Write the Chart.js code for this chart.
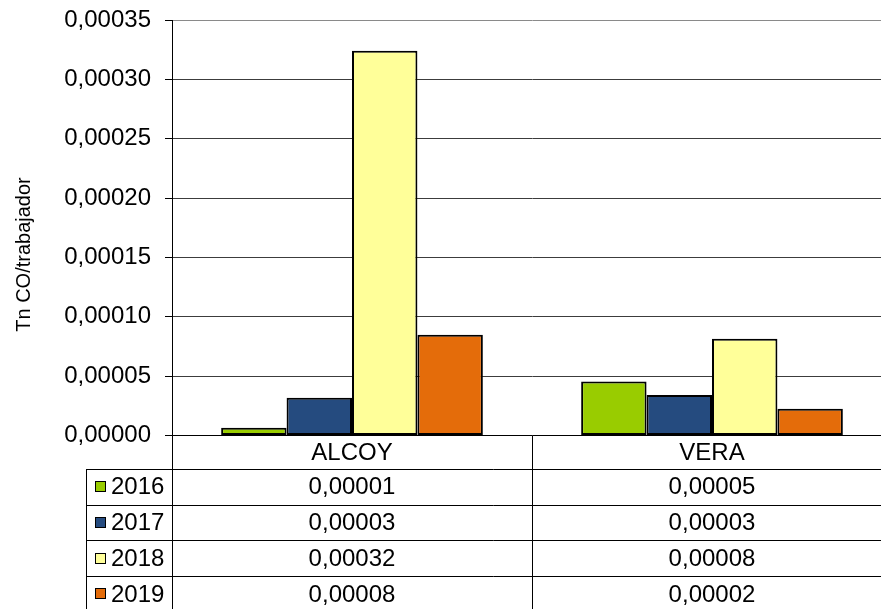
<!DOCTYPE html>
<html>
<head>
<meta charset="utf-8">
<script src="https://cdn.jsdelivr.net/npm/chart.js@4/dist/chart.umd.min.js"></script>
<style>
  html, body { margin: 0; padding: 0; background: #fff; overflow: hidden; }
  #wrap { width: 881px; height: 609px; overflow: hidden; }
  canvas { display: block; }
</style>
</head>
<body>
<div id="wrap"><canvas id="c" width="900" height="609"></canvas></div>
<script>
// Emissions per worker by site and year
const categories = ['ALCOY', 'VERA'];
const years = ['2016', '2017', '2018', '2019'];
const v2016 = [0.0000066, 0.0000454];
const v2017 = [0.0000319, 0.0000342];
const v2018 = [0.000324, 0.0000815];
const v2019 = [0.0000849, 0.0000226];
const yTicks = [0, 0.00005, 0.0001, 0.00015, 0.0002, 0.00025, 0.0003, 0.00035];
const yTitle = 'Tn CO/trabajador';

const seriesValues = [v2016, v2017, v2018, v2019];
const colors = ['#99CC00', '#254B7F', '#FFFF99', '#E46C0A'];
const FONT = '"Liberation Sans", Arial, sans-serif';

const fmt = v => v.toFixed(5).replace('.', ',');

// Data table drawn under the plot, aligned to the category scale
const dataTable = {
  id: 'dataTable',
  afterDraw(chart) {
    const ctx = chart.ctx;
    const xs = chart.scales.x;
    const area = chart.chartArea;
    const half = (xs.getPixelForValue(1) - xs.getPixelForValue(0)) / 2;
    const headTop = area.bottom;
    const headH = 33.5;
    const rowH = 35.7;
    const legLeft = 86.5;
    const colEdges = [area.left];
    categories.forEach((c, i) => colEdges.push(xs.getPixelForValue(i) + half));

    ctx.save();
    ctx.strokeStyle = '#000';
    ctx.lineWidth = 1;
    ctx.beginPath();
    // header bottom and row separators
    for (let r = 0; r <= years.length; r++) {
      const y = Math.round(headTop + headH + r * rowH) + 0.5;
      ctx.moveTo(legLeft, y);
      ctx.lineTo(chart.width, y);
    }
    // vertical rules
    colEdges.forEach(x => {
      const px = Math.round(x) + 0.5;
      ctx.moveTo(px, headTop);
      ctx.lineTo(px, chart.height);
    });
    ctx.moveTo(legLeft, headTop + headH);
    ctx.lineTo(legLeft, chart.height);
    ctx.stroke();

    ctx.fillStyle = '#000';
    ctx.font = '24px ' + FONT;
    ctx.textBaseline = 'middle';
    ctx.textAlign = 'center';
    categories.forEach((c, i) => {
      ctx.fillText(c, xs.getPixelForValue(i), headTop + headH / 2 + 1);
    });
    years.forEach((yr, r) => {
      const cy = headTop + headH + r * rowH + rowH / 2 + 1;
      ctx.textAlign = 'center';
      categories.forEach((c, i) => {
        ctx.fillText(fmt(seriesValues[r][i]), xs.getPixelForValue(i), cy);
      });
      // legend key
      ctx.fillStyle = colors[r];
      ctx.fillRect(95.5, Math.round(cy - 6.5) + 0.5, 10, 10);
      ctx.strokeRect(95.5, Math.round(cy - 6.5) + 0.5, 10, 10);
      ctx.fillStyle = '#000';
      ctx.textAlign = 'left';
      ctx.fillText(yr, 111, cy);
    });

    // vertical axis title
    ctx.save();
    ctx.translate(29.5, 254.5);
    ctx.rotate(-Math.PI / 2);
    ctx.font = '20px ' + FONT;
    ctx.textAlign = 'center';
    ctx.textBaseline = 'alphabetic';
    ctx.fillText(yTitle, 0, 0);
    ctx.restore();
    ctx.restore();
  }
};

new Chart(document.getElementById('c'), {
  type: 'bar',
  data: {
    labels: categories,
    datasets: years.map((yr, i) => ({
      label: yr,
      data: seriesValues[i],
      backgroundColor: colors[i],
      borderColor: '#000',
      borderWidth: 2,
      borderSkipped: false,
      categoryPercentage: 0.727,
      barPercentage: 1
    }))
  },
  options: {
    responsive: false,
    devicePixelRatio: 1,
    animation: false,
    layout: { padding: { top: 20, right: 8, bottom: 173.5, left: 0 } },
    plugins: { legend: { display: false }, tooltip: { enabled: false } },
    scales: {
      x: {
        display: false,
        offset: true
      },
      y: {
        min: 0,
        max: 0.00035,
        afterFit(scale) {
          scale.width = 172;
          scale.paddingTop = 0;
          scale.paddingBottom = 0;
        },
        afterBuildTicks(scale) { scale.ticks = yTicks.map(v => ({ value: v })); },
        ticks: {
          color: '#000',
          font: { family: FONT, size: 24 },
          padding: 14,
          callback: v => fmt(v)
        },
        grid: {
          color: ctx => ctx.index === 0 ? '#000' : (ctx.index === yTicks.length - 1 ? '#8a8a8a' : '#3c3c3c'),
          tickColor: '#000',
          tickLength: 7,
          lineWidth: 1
        },
        border: { color: '#000', width: 1 }
      }
    }
  },
  plugins: [dataTable]
});
</script>
</body>
</html>
